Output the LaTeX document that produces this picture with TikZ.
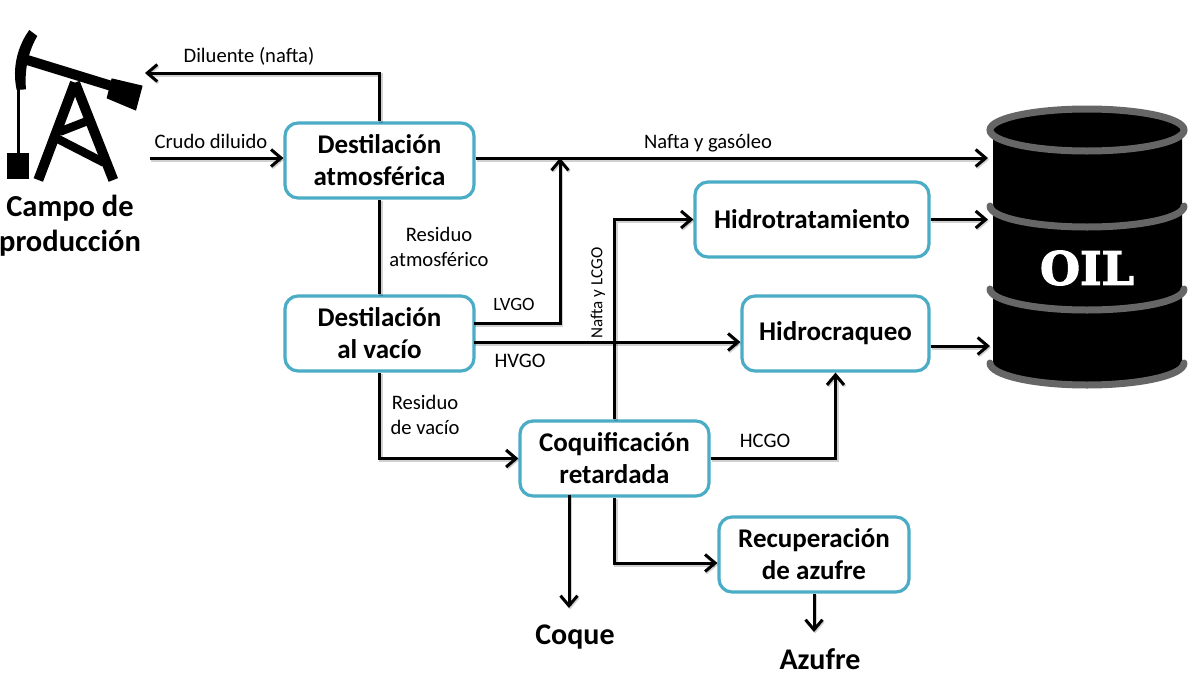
\documentclass[tikz,border=0pt]{standalone}
\usepackage{fontspec}
\setmainfont{Carlito}
\newfontfamily\oilfont{DejaVu Serif}[UprightFont={* Bold},UprightFeatures={FakeBold=2.5}]
\usetikzlibrary{arrows.meta}
\definecolor{boxteal}{HTML}{4BACC6}
\definecolor{rimgray}{HTML}{666666}
\tikzset{
  procbox/.style={draw=boxteal,line width=3.2pt,rounded corners=13pt,fill=white,inner sep=0pt,align=center,
    font=\fontsize{27}{32}\selectfont\bfseries},
  softshadow/.style={preaction={draw=black,opacity=0.18,line width=4pt,transform canvas={xshift=1pt,yshift=-1.5pt}}},
  flow/.style={draw=black,line width=3pt,softshadow,-{Straight Barb[length=10pt,width=17pt,line width=3pt]}},
  plainflow/.style={draw=black,line width=3pt,softshadow},
  lbl/.style={inner sep=0pt,align=center,font=\fontsize{20.6}{25}\selectfont},
  smalllbl/.style={inner sep=0pt,font=\fontsize{18.8}{25}\selectfont},
  big/.style={inner sep=0pt,align=center,font=\fontsize{30.5}{35}\selectfont\bfseries},
  bigb/.style={inner sep=0pt,font=\fontsize{30}{35}\selectfont\bfseries},
  rim/.style={draw=rimgray,line width=7pt,line cap=round},
}
\begin{document}
\begin{tikzpicture}[x=1pt,y=-1pt]
\useasboundingbox (0,0) rectangle (1195,683);
% pump jack
\begin{scope}[x=0.3333pt,y=-0.3333pt,yshift=-20pt]
  \fill (88,30) -- (112,48) .. controls (90,85) and (72,140) .. (78,208) -- (50,210) .. controls (35,140) and (55,75) .. (88,30) -- cycle;
  \draw[line width=10pt] (75,118) -- (335,198);
  \fill (335,175) -- (428,197) -- (408,272) -- (320,235) -- cycle;
  \draw[line width=2.4pt] (55,208) -- (55,402);
  \fill (20,400) rectangle (87,478);
  \draw[line width=10pt] (225,188) -- (115,480);
  \draw[line width=10pt] (225,188) -- (340,480);
  \draw[line width=8.5pt] (180,335) -- (275,298);
  \draw[line width=8.5pt] (170,355) -- (312,428);
\end{scope}
\node[big] (campo) at (70,226) {Campo de\\producción};
% barrel
\fill (993,130) -- (993,363) arc[start angle=180,end angle=360,x radius=94.5,y radius=-22] -- (1182,130) -- cycle;
\draw[rim] (990,206) arc[start angle=180,end angle=360,x radius=97,y radius=-21];
\draw[rim] (990,289) arc[start angle=180,end angle=360,x radius=97,y radius=-21];
\draw[rim] (990,363) arc[start angle=180,end angle=360,x radius=97,y radius=-22];
\draw[rim,fill=black] (1087,130) ellipse[x radius=97,y radius=21];
\node[text=white,inner sep=0pt,font=\fontsize{46}{46}\selectfont\oilfont] (oil) at (1087,268) {OIL};
\coordinate (oilTop) at (988,158);
\coordinate (oilMid) at (988,219.5);
\coordinate (oilLow) at (990,346);
% boxes
\node[procbox,minimum width=189pt,minimum height=75pt] (atm) at (379.5,160.5) {Destilación\\atmosférica};
\node[procbox,minimum width=189pt,minimum height=75pt] (vac) at (379.5,333.5) {Destilación\\al vacío};
\node[procbox,minimum width=234pt,minimum height=75pt] (hdt) at (812,219.5) {Hidrotratamiento};
\node[procbox,minimum width=187pt,minimum height=75pt] (hck) at (835.5,333.5) {Hidrocraqueo};
\node[procbox,minimum width=189pt,minimum height=75pt] (coq) at (614.5,458.5) {Coquificación\\retardada};
\node[procbox,minimum width=190pt,minimum height=75pt] (rec) at (814,554.5) {Recuperación\\de azufre};
\node[bigb] (coque) at (575,637) {Coque};
\node[bigb] (azufre) at (820,659) {Azufre};
% helper coordinates
\coordinate (pumpIn) at (145,73);
\coordinate (crudoIn) at (150,158);
\coordinate (junc) at (560,158);
\coordinate (lvgoY) at (474,323);
\coordinate (hvgoY) at (474,342);
\coordinate (coqTap) at (569,495);
% connectors
\draw[flow] (atm.north) -- (pumpIn -| atm.north) -- (pumpIn);
\draw[flow] (crudoIn) -- (crudoIn -| atm.west);
\draw[flow] (oilTop -| atm.east) -- (oilTop);
\draw[plainflow] (atm.south) -- (vac.north);
\draw[flow] (lvgoY) -- (lvgoY -| junc) -- (junc);
\draw[flow] (hvgoY) -- (hvgoY -| hck.west);
\draw[flow] (vac.south) -- (vac.south |- coq.west) -- (coq.west);
\draw[flow] (coq.north) -- (coq.north |- hdt.west) -- (hdt.west);
\draw[flow] (coq.south) -- (coq.south |- 0,563) -- (rec.west |- 0,563);
\draw[flow] (coq.east) -- (coq.east -| hck.south) -- (hck.south);
\draw[flow] (coqTap) -- (coqTap |- 0,608);
\draw[flow] (rec.south) -- (814,632);
\draw[flow] (hdt.east) -- (oilMid);
\draw[flow] (hck.east |- oilLow) -- (oilLow);
% labels
\node[lbl] (l1) at (249,56) {Diluente (nafta)};
\node[lbl] (l2) at (211,141) {Crudo diluido};
\node[lbl] (l3) at (708,143) {Nafta y gasóleo};
\node[lbl] (l4) at (439,247) {Residuo\\atmosférico};
\node[smalllbl] (l5) at (514,304) {LVGO};
\node[lbl] (l6) at (520,361) {HVGO};
\node[lbl] (l7) at (425,415) {Residuo\\de vacío};
\node[smalllbl,rotate=90,font=\fontsize{17}{20}\selectfont] (l8) at (598,293) {Nafta y LCGO};
\node[lbl] (l9) at (765,441) {HCGO};
\end{tikzpicture}
\end{document}
